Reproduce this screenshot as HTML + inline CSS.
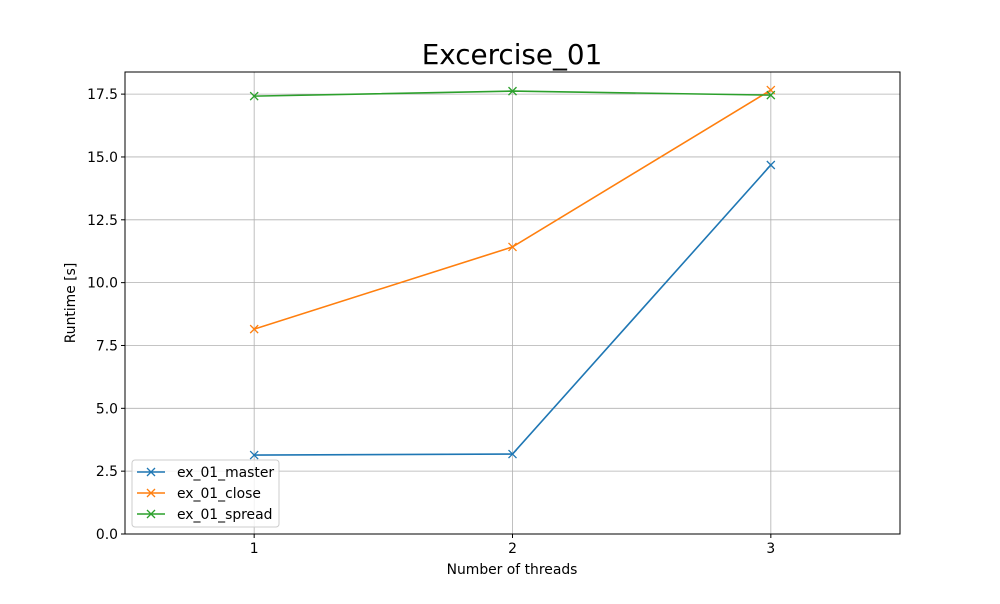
<!DOCTYPE html>
<html><head><meta charset="utf-8"><style>
body{margin:0;background:#fff;font-family:"DejaVu Sans","Liberation Sans",sans-serif}
</style></head><body>
<svg id="chart" width="1000" height="600" xmlns="http://www.w3.org/2000/svg" font-family="DejaVu Sans, Liberation Sans, sans-serif">
<rect width="1000" height="600" fill="#fff"/>
<text x="512" y="64" font-size="27.8" text-anchor="middle" fill="#000">Excercise_01</text>
<g id="grid"></g>
<g id="series"></g>
<rect x="125" y="72" width="775" height="462" fill="none" stroke="#000" stroke-width="1"/>
<g id="ticks"></g>
<text x="512" y="574" font-size="13.9" text-anchor="middle">Number of threads</text>
<text x="75" y="303" font-size="13.9" text-anchor="middle" transform="rotate(-90 75 303)">Runtime [s]</text>
<g id="legend"></g>
</svg>
<script>
const categories = [1, 2, 3];
const seriesNames = ["ex_01_master", "ex_01_close", "ex_01_spread"];
const masterValues = [3.14, 3.18, 14.68];
const closeValues = [8.15, 11.42, 17.66];
const spreadValues = [17.42, 17.62, 17.46];
const yTicks = [0, 2.5, 5, 7.5, 10, 12.5, 15, 17.5];
const yTickLabels = ["0.0","2.5","5.0","7.5","10.0","12.5","15.0","17.5"];
const colors = ["#1f77b4", "#ff7f0e", "#2ca02c"];
const allValues = [masterValues, closeValues, spreadValues];

const NS = "http://www.w3.org/2000/svg";
const L = 125, R = 900, T = 72, B = 534;
const xMin = 0.5, xMax = 3.5, yMin = 0, yMax = 18.38;
const xs = v => L + (v - xMin) / (xMax - xMin) * (R - L);
const ys = v => B - (v - yMin) / (yMax - yMin) * (B - T);
function mk(tag, attrs, parent) {
  const e = document.createElementNS(NS, tag);
  for (const k in attrs) e.setAttribute(k, attrs[k]);
  parent.appendChild(e);
  return e;
}
const grid = document.getElementById("grid");
const ticks = document.getElementById("ticks");
categories.forEach(c => {
  const x = xs(c);
  const g = mk("line", {x1: x, x2: x, y1: T, y2: B, stroke: "#b0b0b0", "stroke-width": 0.8}, grid);
  
  
  mk("line", {x1: x, x2: x, y1: B, y2: B + 4, stroke: "#000"}, ticks);
  const t = mk("text", {x: x, y: B + 19, "font-size": 13.9, "text-anchor": "middle"}, ticks);
  t.textContent = c;
  
  
});
yTicks.forEach((v, i) => {
  const y = ys(v);
  const g = mk("line", {x1: L, x2: R, y1: y, y2: y, stroke: "#b0b0b0", "stroke-width": 0.8}, grid);
  
  
  mk("line", {x1: L - 4, x2: L, y1: y, y2: y, stroke: "#000"}, ticks);
  const t = mk("text", {x: L - 7, y: y + 5, "font-size": 13.9, "text-anchor": "end"}, ticks);
  t.textContent = yTickLabels[i];
  
  
});
function marker(x, y, color, parent) {
  const s = 4;
  mk("path", {d: `M${x-s},${y-s}L${x+s},${y+s}M${x-s},${y+s}L${x+s},${y-s}`, stroke: color, "stroke-width": 1.3, fill: "none"}, parent);
}
const sg = document.getElementById("series");
allValues.forEach((vals, si) => {
  const g = mk("g", {}, sg);
  
  
  const pts = vals.map((v, i) => xs(categories[i]) + "," + ys(v)).join(" ");
  mk("polyline", {points: pts, fill: "none", stroke: colors[si], "stroke-width": 1.6}, g);
  vals.forEach((v, i) => marker(xs(categories[i]), ys(v), colors[si], g));
});
const lg = document.getElementById("legend");
const box = mk("rect", {x: 132, y: 460, width: 147, height: 67, rx: 3, fill: "#fff", "fill-opacity": 0.8, stroke: "#ccc"}, lg);


seriesNames.forEach((n, i) => {
  const y = 472 + i * 21;
  const e = mk("g", {}, lg);
  
  
  mk("line", {x1: 137, x2: 165, y1: y, y2: y, stroke: colors[i], "stroke-width": 1.6}, e);
  marker(151, y, colors[i], e);
  const t = mk("text", {x: 177, y: y + 5, "font-size": 13.9}, e);
  t.textContent = n;
});
</script>
</body></html>
